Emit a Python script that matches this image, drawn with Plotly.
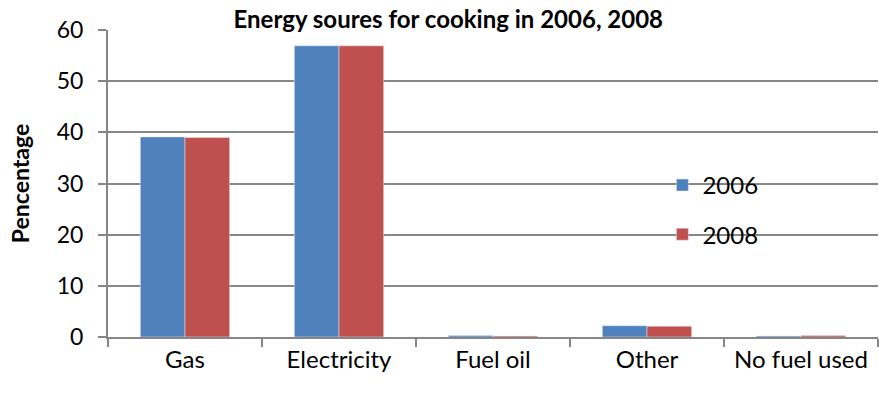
import plotly.graph_objects as go

categories = ["Gas", "Electricity", "Fuel oil", "Other", "No fuel used"]
values_2006 = [39.1, 56.9, 0.3, 2.2, 0.2]
values_2008 = [39.0, 56.9, 0.2, 2.1, 0.3]

FONT = "Lato, Carlito, 'Open Sans', sans-serif"

fig = go.Figure()
fig.add_trace(go.Bar(x=categories, y=values_2006, name="2006", marker_color="#4F81BD",
                     legendgroup="a"))
fig.add_trace(go.Bar(x=categories, y=values_2008, name="2008", marker_color="#C0504D",
                     legendgroup="b"))

fig.update_layout(
    width=879, height=396,
    margin=dict(l=108, r=1, t=30, b=59),
    paper_bgcolor="white", plot_bgcolor="white",
    barmode="group", bargap=0.42, bargroupgap=0,
    font=dict(family=FONT, color="black", size=22),
    title=dict(text="<b>Energy soures for cooking in 2006, 2008</b>",
               x=0.51, xanchor="center", y=0.95, yanchor="middle",
               font=dict(size=24, family=FONT)),
    legend=dict(x=0.72, y=0.414, xanchor="left", yanchor="middle",
                bgcolor="rgba(0,0,0,0)", font=dict(size=24, family=FONT),
                traceorder="grouped", tracegroupgap=15, itemwidth=30),
    showlegend=True,
)
fig.update_xaxes(
    showline=True, linecolor="#868686", linewidth=2,
    ticks="outside", tickson="boundaries", ticklen=8, tickcolor="#868686", tickwidth=2,
    tickfont=dict(size=24, family=FONT),
)
fig.update_yaxes(
    range=[0, 60], dtick=10,
    showline=True, linecolor="#868686", linewidth=2,
    ticks="outside", ticklen=8, tickcolor="#868686", tickwidth=2,
    ticklabelstandoff=10,
    showgrid=True, gridcolor="#868686", gridwidth=1.5,
    tickfont=dict(size=23, family=FONT),
    title=dict(text="<b>Pencentage</b>", font=dict(size=23, family=FONT), standoff=21),
    zeroline=False,
)

fig.write_html("out.html")
